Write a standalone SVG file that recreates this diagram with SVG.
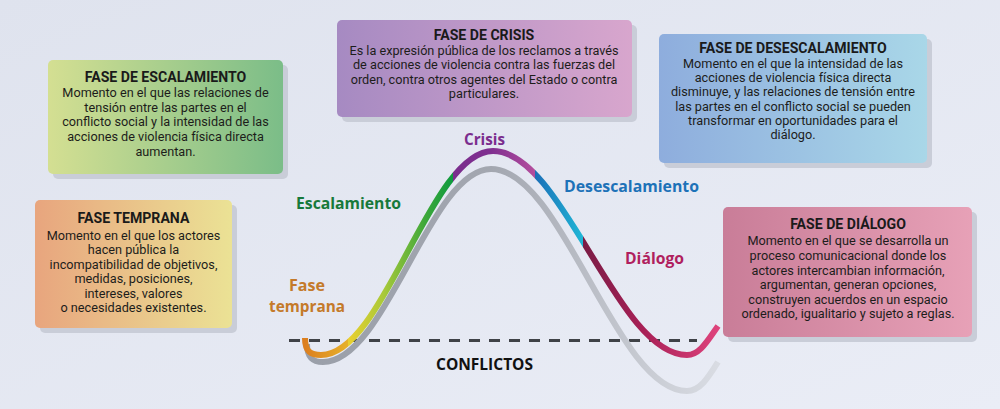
<svg xmlns="http://www.w3.org/2000/svg" width="1000" height="409" viewBox="0 0 1000 409">
<defs>
<linearGradient id="bg" x1="0" y1="0" x2="1" y2="1">
<stop offset="0" stop-color="#dfe3ee"/><stop offset="1" stop-color="#eaedf6"/>
</linearGradient>
<linearGradient id="gEsc" x1="0" y1="0" x2="1" y2="0"><stop offset="0" stop-color="#d4df92"/><stop offset="1" stop-color="#7bbd88"/></linearGradient>
<linearGradient id="gTem" x1="0" y1="0" x2="1" y2="0"><stop offset="0" stop-color="#e8a57e"/><stop offset="1" stop-color="#ebe295"/></linearGradient>
<linearGradient id="gCri" x1="0" y1="0" x2="1" y2="0"><stop offset="0" stop-color="#a68ac2"/><stop offset="1" stop-color="#d8a6cd"/></linearGradient>
<linearGradient id="gDes" x1="0" y1="0" x2="1" y2="0"><stop offset="0" stop-color="#8eaddd"/><stop offset="1" stop-color="#a9d7e8"/></linearGradient>
<linearGradient id="gDia" x1="0" y1="0" x2="1" y2="0"><stop offset="0" stop-color="#c97d98"/><stop offset="1" stop-color="#e7a1b7"/></linearGradient>
<linearGradient id="gCurve" gradientUnits="userSpaceOnUse" x1="305" y1="0" x2="718" y2="0">
<stop offset="0" stop-color="#dc7f1f"/>
<stop offset="0.103" stop-color="#e6b02a"/>
<stop offset="0.103" stop-color="#ecd02e"/>
<stop offset="0.19" stop-color="#a9c93a"/>
<stop offset="0.29" stop-color="#3ea83a"/>
<stop offset="0.358" stop-color="#0f9a3f"/>
<stop offset="0.358" stop-color="#7a2d8d"/>
<stop offset="0.45" stop-color="#7f2f90"/>
<stop offset="0.557" stop-color="#b44e9d"/>
<stop offset="0.557" stop-color="#1b6fb7"/>
<stop offset="0.673" stop-color="#20b7d6"/>
<stop offset="0.673" stop-color="#7a1c45"/>
<stop offset="0.82" stop-color="#a82056"/>
<stop offset="1" stop-color="#de437c"/>
</linearGradient>
<linearGradient id="gGray" gradientUnits="userSpaceOnUse" x1="305" y1="0" x2="718" y2="0">
<stop offset="0" stop-color="#9a9fa9"/>
<stop offset="0.45" stop-color="#a3a7b0"/>
<stop offset="1" stop-color="#d9dce3"/>
</linearGradient>
<style>
.shadow{fill:#c9cdd8}
.title{font-family:Roboto,"Liberation Sans",sans-serif;font-weight:700;font-size:15px;fill:#1a1a1a;text-anchor:middle}
.body{font-family:Roboto,"Liberation Sans",sans-serif;font-size:13.5px;fill:#1d1d1b;text-anchor:middle}
.lbl{font-family:"Open Sans","Liberation Sans",sans-serif;font-weight:700;font-size:16px;text-anchor:middle}
</style>
</defs>
<rect width="1000" height="409" fill="url(#bg)"/>

<g id="connectors">
<line x1="289" y1="340.5" x2="697" y2="340.5" stroke="#3f4247" stroke-width="3" stroke-dasharray="11 9"/>
<path d="M307,344 C307,358 313,362 323,362 C386,362 430,169 491,169 C562,169 616,391 687,391 C700,391 708,378 718,362" fill="none" stroke="url(#gGray)" stroke-width="6"/>
<path d="M305,338 C305,352 311,355 321,355 C384,355 430,151 493,151 C563,151 617,355 687,355 C700,355 708,340 718,326" fill="none" stroke="url(#gCurve)" stroke-width="6"/>
</g>

<g id="labels">
<text class="lbl" x="484.5" y="145" fill="#7b2d8e" textLength="41" lengthAdjust="spacingAndGlyphs">Crisis</text>
<text class="lbl" x="348.5" y="209" fill="#17793b" textLength="105" lengthAdjust="spacingAndGlyphs">Escalamiento</text>
<text class="lbl" x="631.5" y="192" fill="#1d72b8" textLength="135" lengthAdjust="spacingAndGlyphs">Desescalamiento</text>
<text class="lbl" x="654.5" y="264" fill="#b01f5e" textLength="59" lengthAdjust="spacingAndGlyphs">Diálogo</text>
<text class="lbl" x="307" y="290.5" fill="#c47a2a" textLength="36" lengthAdjust="spacingAndGlyphs">Fase</text>
<text class="lbl" x="307" y="312" fill="#c47a2a" textLength="76" lengthAdjust="spacingAndGlyphs">temprana</text>
<text class="lbl" x="484.5" y="370" fill="#111111" textLength="97" lengthAdjust="spacingAndGlyphs">CONFLICTOS</text>
</g>

<g id="fase-escalamiento">
<rect class="shadow" x="53" y="65" width="235" height="114" rx="5"/>
<rect x="48" y="60" width="235" height="114" rx="5" fill="url(#gEsc)"/>
<g transform="translate(165.5,0) scale(0.94,1)">
<text class="title" x="0" y="82">FASE DE ESCALAMIENTO</text>
<text class="body" x="0" y="97.5">Momento en el que las relaciones de</text>
<text class="body" x="0" y="112">tensión entre las partes en el</text>
<text class="body" x="0" y="126.5">conflicto social y la intensidad de las</text>
<text class="body" x="0" y="141">acciones de violencia física directa</text>
<text class="body" x="0" y="156">aumentan.</text>
</g>
</g>

<g id="fase-temprana">
<rect class="shadow" x="40" y="205" width="197" height="128" rx="5"/>
<rect x="35" y="200" width="197" height="128" rx="5" fill="url(#gTem)"/>
<g transform="translate(133.5,0) scale(0.94,1)">
<text class="title" x="0" y="223">FASE TEMPRANA</text>
<text class="body" x="0" y="240">Momento en el que los actores</text>
<text class="body" x="0" y="254.5">hacen pública la</text>
<text class="body" x="0" y="269">incompatibilidad de objetivos,</text>
<text class="body" x="0" y="283.5">medidas, posiciones,</text>
<text class="body" x="0" y="298">intereses, valores</text>
<text class="body" x="0" y="312.5">o necesidades existentes.</text>
</g>
</g>

<g id="fase-crisis">
<rect class="shadow" x="342" y="25" width="295" height="97" rx="5"/>
<rect x="337" y="20" width="295" height="97" rx="5" fill="url(#gCri)"/>
<g transform="translate(484,0) scale(0.94,1)">
<text class="title" x="0" y="40">FASE DE CRISIS</text>
<text class="body" x="0" y="55.5">Es la expresión pública de los reclamos a través</text>
<text class="body" x="0" y="69.5">de acciones de violencia contra las fuerzas del</text>
<text class="body" x="0" y="84">orden, contra otros agentes del Estado o contra</text>
<text class="body" x="0" y="98">particulares.</text>
</g>
</g>

<g id="fase-desescalamiento">
<rect class="shadow" x="664" y="39" width="268" height="129" rx="5"/>
<rect x="659" y="34" width="268" height="129" rx="5" fill="url(#gDes)"/>
<g transform="translate(793,0) scale(0.94,1)">
<text class="title" x="0" y="53">FASE DE DESESCALAMIENTO</text>
<text class="body" x="0" y="68.5">Momento en el que la intensidad de las</text>
<text class="body" x="0" y="82.5">acciones de violencia física directa</text>
<text class="body" x="0" y="96.5">disminuye, y las relaciones de tensión entre</text>
<text class="body" x="0" y="111">las partes en el conflicto social se pueden</text>
<text class="body" x="0" y="125">transformar en oportunidades para el</text>
<text class="body" x="0" y="139">diálogo.</text>
</g>
</g>

<g id="fase-dialogo">
<rect class="shadow" x="728" y="212" width="249" height="130" rx="5"/>
<rect x="723" y="207" width="249" height="130" rx="5" fill="url(#gDia)"/>
<g transform="translate(848,0) scale(0.94,1)">
<text class="title" x="0" y="229">FASE DE DIÁLOGO</text>
<text class="body" x="0" y="245.5">Momento en el que se desarrolla un</text>
<text class="body" x="0" y="260.5">proceso comunicacional donde los</text>
<text class="body" x="0" y="275">actores intercambian información,</text>
<text class="body" x="0" y="289.5">argumentan, generan opciones,</text>
<text class="body" x="0" y="304">construyen acuerdos en un espacio</text>
<text class="body" x="0" y="318.5">ordenado, igualitario y sujeto a reglas.</text>
</g>
</g>
</svg>
